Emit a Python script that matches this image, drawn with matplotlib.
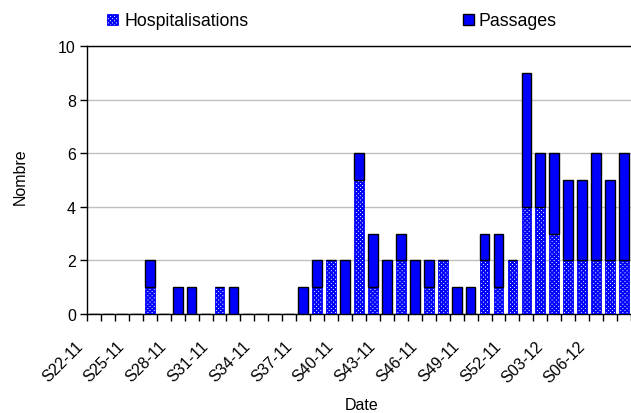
import matplotlib
matplotlib.use("Agg")
import matplotlib.pyplot as plt
from matplotlib.patches import Patch
import matplotlib.transforms as mtransforms
import numpy as np

plt.rcParams['font.family'] = ['Liberation Sans', 'DejaVu Sans']
plt.rcParams['hatch.linewidth'] = 1.3

weeks = ["S22-11", "S23-11", "S24-11", "S25-11", "S26-11", "S27-11", "S28-11",
         "S29-11", "S30-11", "S31-11", "S32-11", "S33-11", "S34-11", "S35-11",
         "S36-11", "S37-11", "S38-11", "S39-11", "S40-11", "S41-11", "S42-11",
         "S43-11", "S44-11", "S45-11", "S46-11", "S47-11", "S48-11", "S49-11",
         "S50-11", "S51-11", "S52-11", "S01-12", "S02-12", "S03-12", "S04-12",
         "S05-12", "S06-12", "S07-12", "S08-12"]
hospitalisations = [0, 0, 0, 0, 1, 0, 0, 0, 0, 1, 0, 0, 0, 0, 0, 0, 1, 2, 0, 5,
                    1, 0, 2, 0, 1, 2, 0, 0, 2, 1, 2, 4, 4, 3, 2, 2, 2, 2, 2]
passages = [0, 0, 0, 0, 1, 0, 1, 1, 0, 0, 1, 0, 0, 0, 0, 1, 1, 0, 2, 1,
            2, 2, 1, 2, 1, 0, 1, 1, 1, 2, 0, 5, 2, 3, 3, 3, 4, 3, 4]
yticks = [0, 2, 4, 6, 8, 10]

W, H = 631, 414
fig = plt.figure(figsize=(W / 100, H / 100), dpi=100)
left, right, top, bottom = 87, 631, 47, 315
ax = fig.add_axes([left / W, 1 - bottom / H, (right - left) / W, (bottom - top) / H])

x = np.arange(len(weeks))
blue = '#0000FF'
hatch = 'xxxxxxxx'
ax.bar(x, hospitalisations, width=0.7, color='white', edgecolor=blue,
       hatch=hatch, linewidth=0.6, zorder=3)
ax.bar(x, passages, width=0.7, bottom=hospitalisations, color=blue,
       edgecolor='black', linewidth=1.0, zorder=3)

ax.set_ylim(0, 10)
ax.set_xlim(-0.5, 38.45)
ax.set_yticks(yticks)
ax.yaxis.grid(True, color='#c0c0c0', linewidth=1.0, zorder=0)
ax.set_axisbelow(True)

ax.spines['right'].set_visible(False)
for s in ['left', 'bottom', 'top']:
    ax.spines[s].set_color('black')
    ax.spines[s].set_linewidth(1.0)

# category boundary ticks
ax.set_xticks(np.arange(len(weeks) + 1) - 0.5)
ax.set_xticklabels([])
ax.tick_params(axis='x', which='major', direction='out', length=5, width=1)
lab_idx = x[::3]
ax.set_xticks(lab_idx, minor=True)
ax.set_xticklabels([weeks[i] for i in lab_idx], minor=True, rotation=45,
                   ha='right', va='top', rotation_mode='anchor', fontsize=11.5)
ax.tick_params(axis='x', which='minor', length=0, pad=17)
offset = mtransforms.ScaledTranslation(-19 / 100, 0, fig.dpi_scale_trans)
for lbl in ax.xaxis.get_minorticklabels():
    lbl.set_transform(lbl.get_transform() + offset)

ax.tick_params(axis='y', direction='out', length=5, width=1, labelsize=11.5, pad=3)

fig.text(20 / W, 1 - 177 / H, 'Nombre', rotation=90, ha='center', va='center',
         fontsize=11.5)
fig.text(362 / W, 1 - 406 / H, 'Date', ha='center', va='center', fontsize=11.5)

h1 = Patch(facecolor='white', edgecolor=blue, hatch=hatch, linewidth=0.6)
h2 = Patch(facecolor=blue, edgecolor='black', linewidth=1.0)
fig.legend([h1], ['Hospitalisations'], loc='center left',
           bbox_to_anchor=(107 / W, 1 - 22 / H), frameon=False,
           borderpad=0, borderaxespad=0, handlelength=0.6,
           handleheight=0.6, handletextpad=0.4, fontsize=12.8)
fig.legend([h2], ['Passages'], loc='center left',
           bbox_to_anchor=(463 / W, 1 - 22 / H), frameon=False,
           borderpad=0, borderaxespad=0, handlelength=0.6,
           handleheight=0.6, handletextpad=0.25, fontsize=12.8)

fig.savefig('out.png', dpi=100)
